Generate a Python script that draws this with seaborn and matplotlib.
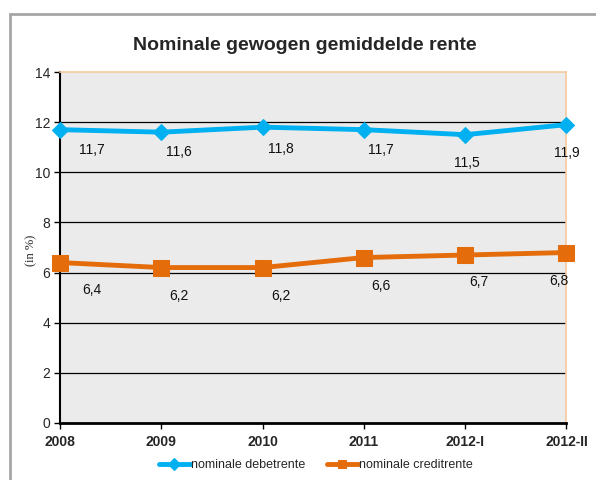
import pandas as pd
import matplotlib.pyplot as plt
import seaborn as sns
from matplotlib.patches import Rectangle

# Data
periods = ['2008', '2009', '2010', '2011', '2012-I', '2012-II']
debet = [11.7, 11.6, 11.8, 11.7, 11.5, 11.9]
credit = [6.4, 6.2, 6.2, 6.6, 6.7, 6.8]
debet_labels = ['11,7', '11,6', '11,8', '11,7', '11,5', '11,9']
credit_labels = ['6,4', '6,2', '6,2', '6,6', '6,7', '6,8']

df = pd.DataFrame({'pos': range(len(periods)), 'debet': debet, 'credit': credit})

sns.set_style('white')
plt.rcParams['font.family'] = ['Liberation Sans', 'DejaVu Sans']

fig = plt.figure(figsize=(5.96, 4.8), dpi=100)
ax = fig.add_axes([0.1007, 0.11875, 0.8498, 0.73125])
ax.set_facecolor('#ebebeb')

blue = '#00b0f0'
orange = '#e46c0a'

sns.lineplot(data=df, x='pos', y='debet', ax=ax, color=blue, lw=3.5,
             marker='D', markersize=8.5, markeredgecolor=blue,
             label='nominale debetrente', clip_on=False, zorder=4)
sns.lineplot(data=df, x='pos', y='credit', ax=ax, color=orange, lw=3.5,
             marker='s', markersize=11, markeredgecolor=orange,
             label='nominale creditrente', clip_on=False, zorder=4)

# value labels (offsets in pixels, as placed in the original)
d_off = [(32, -20), (18, -20), (18, -22), (17, -20), (2, -28), (0, -28)]
c_off = [(32, -27), (18, -28), (18, -28), (17, -28), (14, -27), (-8, -28)]
for i in range(len(periods)):
    ax.annotate(debet_labels[i], (i, debet[i]), xytext=(d_off[i][0] * 0.72, d_off[i][1] * 0.72),
                textcoords='offset points', ha='center', va='center', fontsize=10, color='#111111')
    ax.annotate(credit_labels[i], (i, credit[i]), xytext=(c_off[i][0] * 0.72, c_off[i][1] * 0.72),
                textcoords='offset points', ha='center', va='center', fontsize=10, color='#111111')

ax.set_xlim(0, len(periods) - 1)
ax.set_ylim(0, 14)
ax.set_yticks(range(0, 15, 2))
ax.set_xticks(range(len(periods)))
ax.set_xticklabels(periods, fontweight='bold', fontsize=10)
ax.tick_params(axis='y', labelsize=10, length=4, width=1, color='black', left=True, pad=3)
ax.tick_params(axis='x', length=4, width=1, color='black', bottom=True, pad=5)

for y in range(2, 14, 2):
    ax.axhline(y, color='black', lw=0.9, zorder=1)

ax.spines['left'].set_color('black')
ax.spines['left'].set_linewidth(1.5)
ax.spines['bottom'].set_color('black')
ax.spines['bottom'].set_linewidth(2)
ax.spines['top'].set_color('#f7c99c')
ax.spines['right'].set_color('#f7c99c')
ax.spines['top'].set_linewidth(1.2)
ax.spines['right'].set_linewidth(1.2)

ax.set_xlabel('')
ax.set_ylabel('(in %)', fontsize=9, family=['Liberation Serif', 'DejaVu Serif'])
ax.yaxis.set_label_coords(-0.045, 0.493)

fig.text(0.512, 0.905, 'Nominale gewogen gemiddelde rente', ha='center', va='center',
         fontsize=14, fontweight='bold')

leg = ax.legend(loc='center', ncol=2, frameon=False, handlelength=2.5, handletextpad=0.1,
                columnspacing=1.7, prop={'size': 9})
leg.set_bbox_to_anchor((0.53, 0.031), transform=fig.transFigure)
for h in leg.legend_handles:
    h.set_markersize(6)

fig.add_artist(Rectangle((10 / 596, -0.1), 1.2, 1 - 14 / 480 + 0.1, transform=fig.transFigure,
                         fill=False, edgecolor='#a6a6a6', lw=2))

plt.savefig('out.png', dpi=100)
